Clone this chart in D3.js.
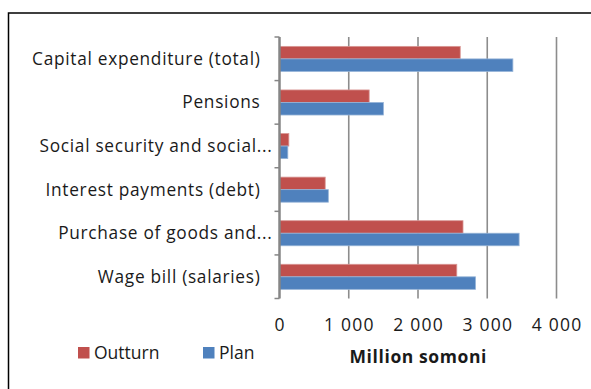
<!DOCTYPE html>
<html>
<head>
<meta charset="utf-8">
<script src="https://cdn.jsdelivr.net/npm/d3@7"></script>
<style>
  html, body { margin: 0; padding: 0; background: #fff; }
  svg { display: block; }
  text { font-family: "Open Sans", "Lato", sans-serif; fill: #1a1a1a; }
</style>
</head>
<body>
<svg id="chart" width="591" height="389"></svg>
<script>
// Spending categories, top to bottom
const categories = [
  "Capital expenditure (total)",
  "Pensions",
  "Social security and social...",
  "Interest payments (debt)",
  "Purchase of goods and...",
  "Wage bill (salaries)"
];
const seriesNames = ["Outturn", "Plan"];
const outturn = [2610, 1295, 135, 660, 2650, 2560];
const plan    = [3370, 1500, 120, 705, 3460, 2830];
const xTicks = [0, 1000, 2000, 3000, 4000];
const xTitle = "Million somoni";

const colors = { Outturn: "#C0504D", Plan: "#4F81BD" };
const edges  = { Outturn: "#D99694", Plan: "#95B3D7" };

const svg = d3.select("#chart");

// Outer frame
svg.append("rect")
  .attr("x", 8.5).attr("y", 13)
  .attr("width", 620).attr("height", 420)
  .attr("fill", "none").attr("stroke", "#000").attr("stroke-width", 1.5);

const plot = { left: 279.5, right: 556.5, top: 37, bottom: 298.5 };

const x = d3.scaleLinear().domain([0, 4000]).range([plot.left, plot.right]);
const y = d3.scaleBand().domain(categories).range([plot.top, plot.bottom]).padding(0);
const inner = d3.scaleBand().domain(seriesNames)
  .range([y.bandwidth() * 0.215, y.bandwidth() * 0.79]).padding(0);

// Vertical gridlines
svg.append("g").selectAll("line")
  .data(xTicks.filter(t => t > 0))
  .join("line")
  .attr("x1", d => x(d)).attr("x2", d => x(d))
  .attr("y1", plot.top).attr("y2", plot.bottom)
  .attr("stroke", "#8c8c8c").attr("stroke-width", 1.6);

// Bars
const rows = categories.map((c, i) => ({ c, Outturn: outturn[i], Plan: plan[i] }));
const groups = svg.append("g").selectAll("g")
  .data(rows).join("g")
  .attr("transform", d => `translate(0,${y(d.c)})`);
groups.selectAll("rect")
  .data(d => seriesNames.map(s => ({ s, v: d[s] })))
  .join("rect")
  .attr("x", x(0))
  .attr("y", d => inner(d.s))
  .attr("width", d => x(d.v) - x(0))
  .attr("height", inner.bandwidth())
  .attr("fill", d => colors[d.s])
  .attr("stroke", d => edges[d.s]).attr("stroke-width", 0.8);

// Category axis with ticks at band boundaries
const yAxis = svg.append("g");
yAxis.append("line")
  .attr("x1", plot.left).attr("x2", plot.left)
  .attr("y1", plot.top).attr("y2", plot.bottom)
  .attr("stroke", "#868686").attr("stroke-width", 2.5);
const bounds = categories.map(c => y(c)).concat([plot.bottom]);
yAxis.selectAll("line.tick")
  .data(bounds).join("line").attr("class", "tick")
  .attr("x1", plot.left - 5).attr("x2", plot.left)
  .attr("y1", d => d).attr("y2", d => d)
  .attr("stroke", "#868686").attr("stroke-width", 1.5);
// Truncated labels run closer to the axis
yAxis.selectAll("text")
  .data(categories).join("text")
  .attr("x", d => d.endsWith("...") ? 272.5 : 260.5)
  .attr("y", d => y(d) + y.bandwidth() / 2)
  .attr("dy", "0.35em")
  .attr("text-anchor", "end")
  .attr("font-size", 17.3)
  .attr("letter-spacing", 0.7)
  .text(d => d);

// Value axis labels
svg.append("g").selectAll("text")
  .data(xTicks).join("text")
  .attr("x", d => x(d) + 0.6)
  .attr("y", 325)
  .attr("dy", "0.35em")
  .attr("text-anchor", "middle")
  .attr("font-size", 17.5)
  .attr("letter-spacing", 1.2)
  .text(d => d3.format(",")(d).replace(/,/g, " "));

// Axis title
svg.append("text")
  .attr("x", (plot.left + plot.right) / 2 + 0.3)
  .attr("y", 357)
  .attr("dy", "0.35em")
  .attr("text-anchor", "middle")
  .attr("font-size", 17.5)
  .attr("letter-spacing", 0.6)
  .attr("font-weight", "bold")
  .text(xTitle);

// Legend
const legend = svg.append("g");
const legendX = { Outturn: 78, Plan: 203 };
seriesNames.forEach(s => {
  legend.append("rect")
    .attr("x", legendX[s]).attr("y", 347)
    .attr("width", 11.5).attr("height", 11.5)
    .attr("fill", colors[s]);
  legend.append("text")
    .attr("x", legendX[s] + 16).attr("y", 353)
    .attr("dy", "0.35em")
    .attr("font-size", 17.5)
    .text(s);
});
</script>
</body>
</html>
